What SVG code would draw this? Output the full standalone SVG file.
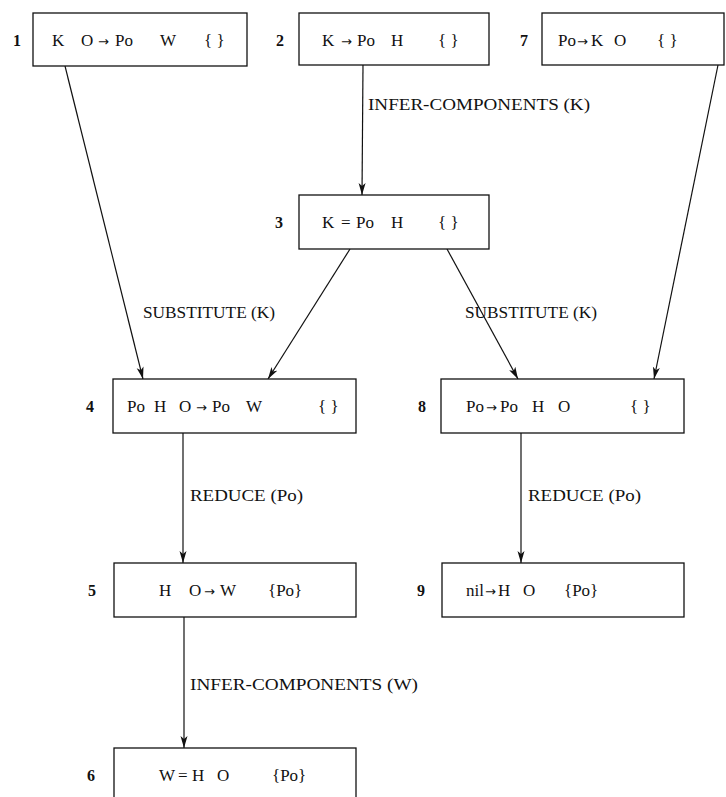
<svg xmlns="http://www.w3.org/2000/svg" width="726" height="797" viewBox="0 0 726 797">
<style>
text{font-family:"Liberation Serif","DejaVu Serif",serif;font-size:17px;fill:#111}
.n{font-weight:bold;font-size:16px}
.a{font-family:"DejaVu Sans",sans-serif;font-size:13px}
rect{fill:#fff;stroke:#111;stroke-width:1.3}
.c path{fill:none;stroke:#111;stroke-width:1.2}
</style>
<defs>
<marker id="ah" viewBox="0 0 12 8" refX="12" refY="4" markerWidth="12" markerHeight="8" markerUnits="userSpaceOnUse" orient="auto">
<path d="M0,0.5 L12,4 L0,7.5 L3,4 Z" fill="#111"/>
</marker>
</defs>
<g class="c" id="connectors">
<path d="M65,66 L143,379" marker-end="url(#ah)"/>
<path d="M363,65 L362,195" marker-end="url(#ah)"/>
<path d="M350,249 L268,379" marker-end="url(#ah)"/>
<path d="M447,249 L518,379" marker-end="url(#ah)"/>
<path d="M718,65 L654,379" marker-end="url(#ah)"/>
<path d="M183,433 L183,563" marker-end="url(#ah)"/>
<path d="M521,433 L521,563" marker-end="url(#ah)"/>
<path d="M184,617 L184,748" marker-end="url(#ah)"/>
<text x="368" y="110" textLength="222" lengthAdjust="spacingAndGlyphs">INFER-COMPONENTS (K)</text>
<text x="143" y="318" textLength="132" lengthAdjust="spacingAndGlyphs">SUBSTITUTE (K)</text>
<text x="465" y="318" textLength="132" lengthAdjust="spacingAndGlyphs">SUBSTITUTE (K)</text>
<text x="190" y="501" textLength="113" lengthAdjust="spacingAndGlyphs">REDUCE (Po)</text>
<text x="528" y="501" textLength="113" lengthAdjust="spacingAndGlyphs">REDUCE (Po)</text>
<text x="190" y="690" textLength="228" lengthAdjust="spacingAndGlyphs">INFER-COMPONENTS (W)</text>
</g>
<g id="node1">
<rect x="33" y="13" width="214" height="53"/>
<text class="n" x="13" y="46">1</text>
<text x="52" y="46">K</text><text x="81" y="46">O</text><text class="a" x="98" y="46">→</text><text x="115" y="46">Po</text><text x="160" y="46">W</text><text x="204" y="46">{ }</text>
</g>
<g id="node2">
<rect x="299" y="13" width="190" height="52"/>
<text class="n" x="276" y="46">2</text>
<text x="322" y="46">K</text><text class="a" x="341" y="46">→</text><text x="357" y="46">Po</text><text x="391" y="46">H</text><text x="438" y="46">{ }</text>
</g>
<g id="node7">
<rect x="542" y="13" width="182" height="52"/>
<text class="n" x="520" y="46">7</text>
<text x="558" y="46">Po</text><text class="a" x="577" y="46">→</text><text x="591" y="46">K</text><text x="614" y="46">O</text><text x="657" y="46">{ }</text>
</g>
<g id="node3">
<rect x="299" y="195" width="190" height="54"/>
<text class="n" x="275" y="228">3</text>
<text x="322" y="228">K</text><text x="341" y="228">=</text><text x="356" y="228">Po</text><text x="391" y="228">H</text><text x="438" y="228">{ }</text>
</g>
<g id="node4">
<rect x="113" y="379" width="243" height="54"/>
<text class="n" x="86" y="412">4</text>
<text x="127" y="412">Po</text><text x="154" y="412">H</text><text x="179" y="412">O</text><text class="a" x="196" y="412">→</text><text x="212" y="412">Po</text><text x="246" y="412">W</text><text x="318" y="412">{ }</text>
</g>
<g id="node8">
<rect x="441" y="379" width="243" height="54"/>
<text class="n" x="418" y="412">8</text>
<text x="466" y="412">Po</text><text class="a" x="486" y="412">→</text><text x="500" y="412">Po</text><text x="532" y="412">H</text><text x="558" y="412">O</text><text x="630" y="412">{ }</text>
</g>
<g id="node5">
<rect x="114" y="563" width="242" height="54"/>
<text class="n" x="88" y="596">5</text>
<text x="159" y="596">H</text><text x="189" y="596">O</text><text class="a" x="204" y="596">→</text><text x="220" y="596">W</text><text x="268" y="596">{Po}</text>
</g>
<g id="node9">
<rect x="442" y="563" width="242" height="54"/>
<text class="n" x="417" y="596">9</text>
<text x="466" y="596">nil</text><text class="a" x="485" y="596">→</text><text x="498" y="596">H</text><text x="523" y="596">O</text><text x="564" y="596">{Po}</text>
</g>
<g id="node6">
<rect x="114" y="748" width="242" height="54"/>
<text class="n" x="87" y="781">6</text>
<text x="159" y="781">W</text><text x="178" y="781">=</text><text x="192" y="781">H</text><text x="217" y="781">O</text><text x="272" y="781">{Po}</text>
</g>
</svg>
